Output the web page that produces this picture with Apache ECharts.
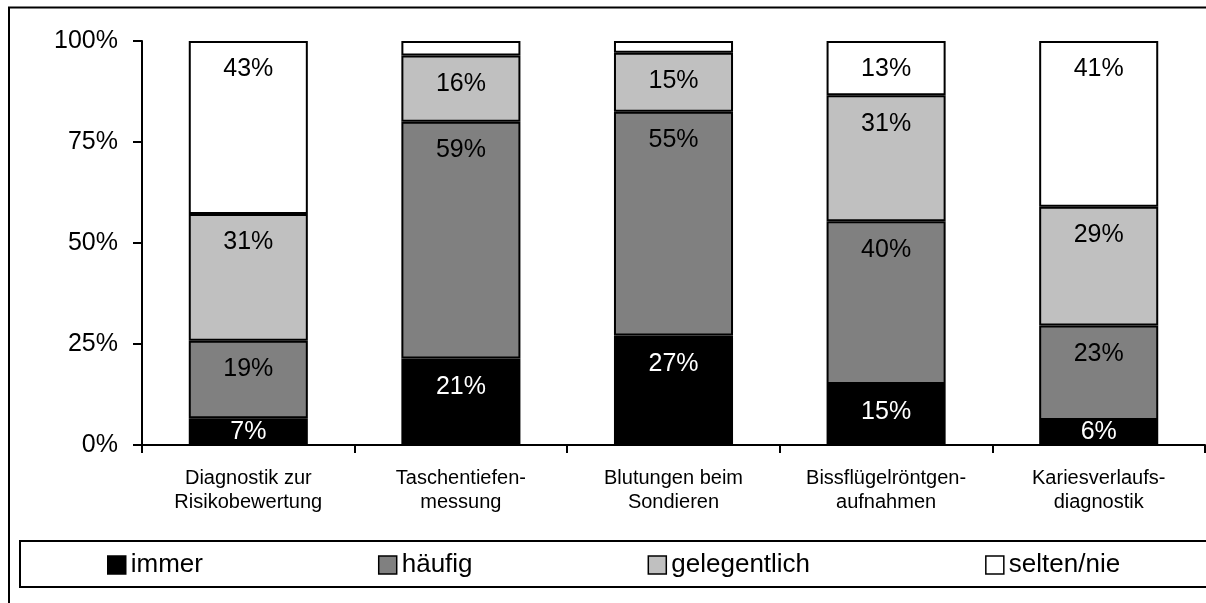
<!DOCTYPE html>
<html>
<head>
<meta charset="utf-8">
<script src="https://cdn.jsdelivr.net/npm/echarts@6/dist/echarts.min.js"></script>
<style>
  html, body { margin: 0; padding: 0; background: #fff; }
  #chart { width: 1206px; height: 603px; }
</style>
</head>
<body>
<div id="chart"></div>
<script>
// Kategorien und Anteile (in %)
var categories = [
  'Diagnostik zur\nRisikobewertung',
  'Taschentiefen-\nmessung',
  'Blutungen beim\nSondieren',
  'Bissflügelröntgen-\naufnahmen',
  'Kariesverlaufs-\ndiagnostik'
]
var immer = [6.6, 21.4, 27.1, 15.1, 6.2]
var haeufig = [19.2, 58.6, 55.4, 40.3, 23.4]
var gelegentlich = [31.4, 16.4, 14.6, 31.2, 29.4]
var selten = [42.8, 3.6, 2.9, 13.4, 41.0]
var yTicks = [0, 25, 50, 75, 100]

var font = "'Liberation Sans', Arial, sans-serif"

// kleine Segmente: Label mittig, sonst oben
function items(vals) {
  return vals.map(function (v) {
    return { value: v, label: { position: v < 12 ? 'inside' : 'insideTop' } }
  })
}

function barSeries(name, vals, color, textColor) {
  return {
    name: name,
    type: 'bar',
    stack: 'total',
    barWidth: '56%',
    data: items(vals),
    itemStyle: {
      color: color,
      borderColor: '#000',
      borderWidth: 2
    },
    label: {
      show: true,
      distance: 16,
      color: textColor,
      fontFamily: font,
      fontSize: 25,
      formatter: function (p) {
        return p.value < 5 ? '' : Math.round(p.value) + '%'
      }
    },
    emphasis: { disabled: true }
  }
}

var myChart = echarts.init(document.getElementById('chart'))
var option = {
  animation: false,
  backgroundColor: '#fff',
  textStyle: { fontFamily: font, color: '#000' },
  grid: { left: 142, right: 1, top: 41, bottom: 158 },
  graphic: [
    {
      type: 'rect',
      shape: { x: 9, y: 7.5, width: 1230, height: 640 },
      style: { fill: null, stroke: '#000', lineWidth: 2 },
      z: -1
    },
    {
      type: 'rect',
      shape: { x: 20, y: 541, width: 1220, height: 46 },
      style: { fill: null, stroke: '#000', lineWidth: 2 },
      z: -1
    }
  ],
  legend: {
    left: 107,
    top: 551,
    padding: 0,
    itemWidth: 18,
    itemHeight: 18,
    itemGap: 175,
    icon: 'rect',
    itemStyle: { borderWidth: 1.5, borderColor: '#000' },
    textStyle: { fontFamily: font, fontSize: 26, color: '#000', lineHeight: 28 },
    data: ['immer', 'häufig', 'gelegentlich', 'selten/nie']
  },
  xAxis: {
    type: 'category',
    data: categories,
    axisLine: { show: true, lineStyle: { color: '#000', width: 2 } },
    axisTick: { show: true, length: 8, lineStyle: { color: '#000', width: 2 } },
    axisLabel: {
      interval: 0,
      margin: 21,
      fontFamily: font,
      fontSize: 20,
      lineHeight: 24,
      color: '#000'
    }
  },
  yAxis: {
    type: 'value',
    min: yTicks[0],
    max: yTicks[yTicks.length - 1],
    interval: 25,
    axisLine: { show: true, lineStyle: { color: '#000', width: 2 } },
    axisTick: { show: true, length: 9, lineStyle: { color: '#000', width: 2 } },
    splitLine: { show: false },
    axisLabel: {
      margin: 24,
      fontFamily: font,
      fontSize: 25,
      color: '#000',
      formatter: '{value}%'
    }
  },
  series: [
    barSeries('immer', immer, '#000000', '#ffffff'),
    barSeries('häufig', haeufig, '#808080', '#000000'),
    barSeries('gelegentlich', gelegentlich, '#c0c0c0', '#000000'),
    barSeries('selten/nie', selten, '#ffffff', '#000000')
  ]
}
myChart.setOption(option)
window.onresize = function () {
  myChart.resize()
}
</script>
</body>
</html>
